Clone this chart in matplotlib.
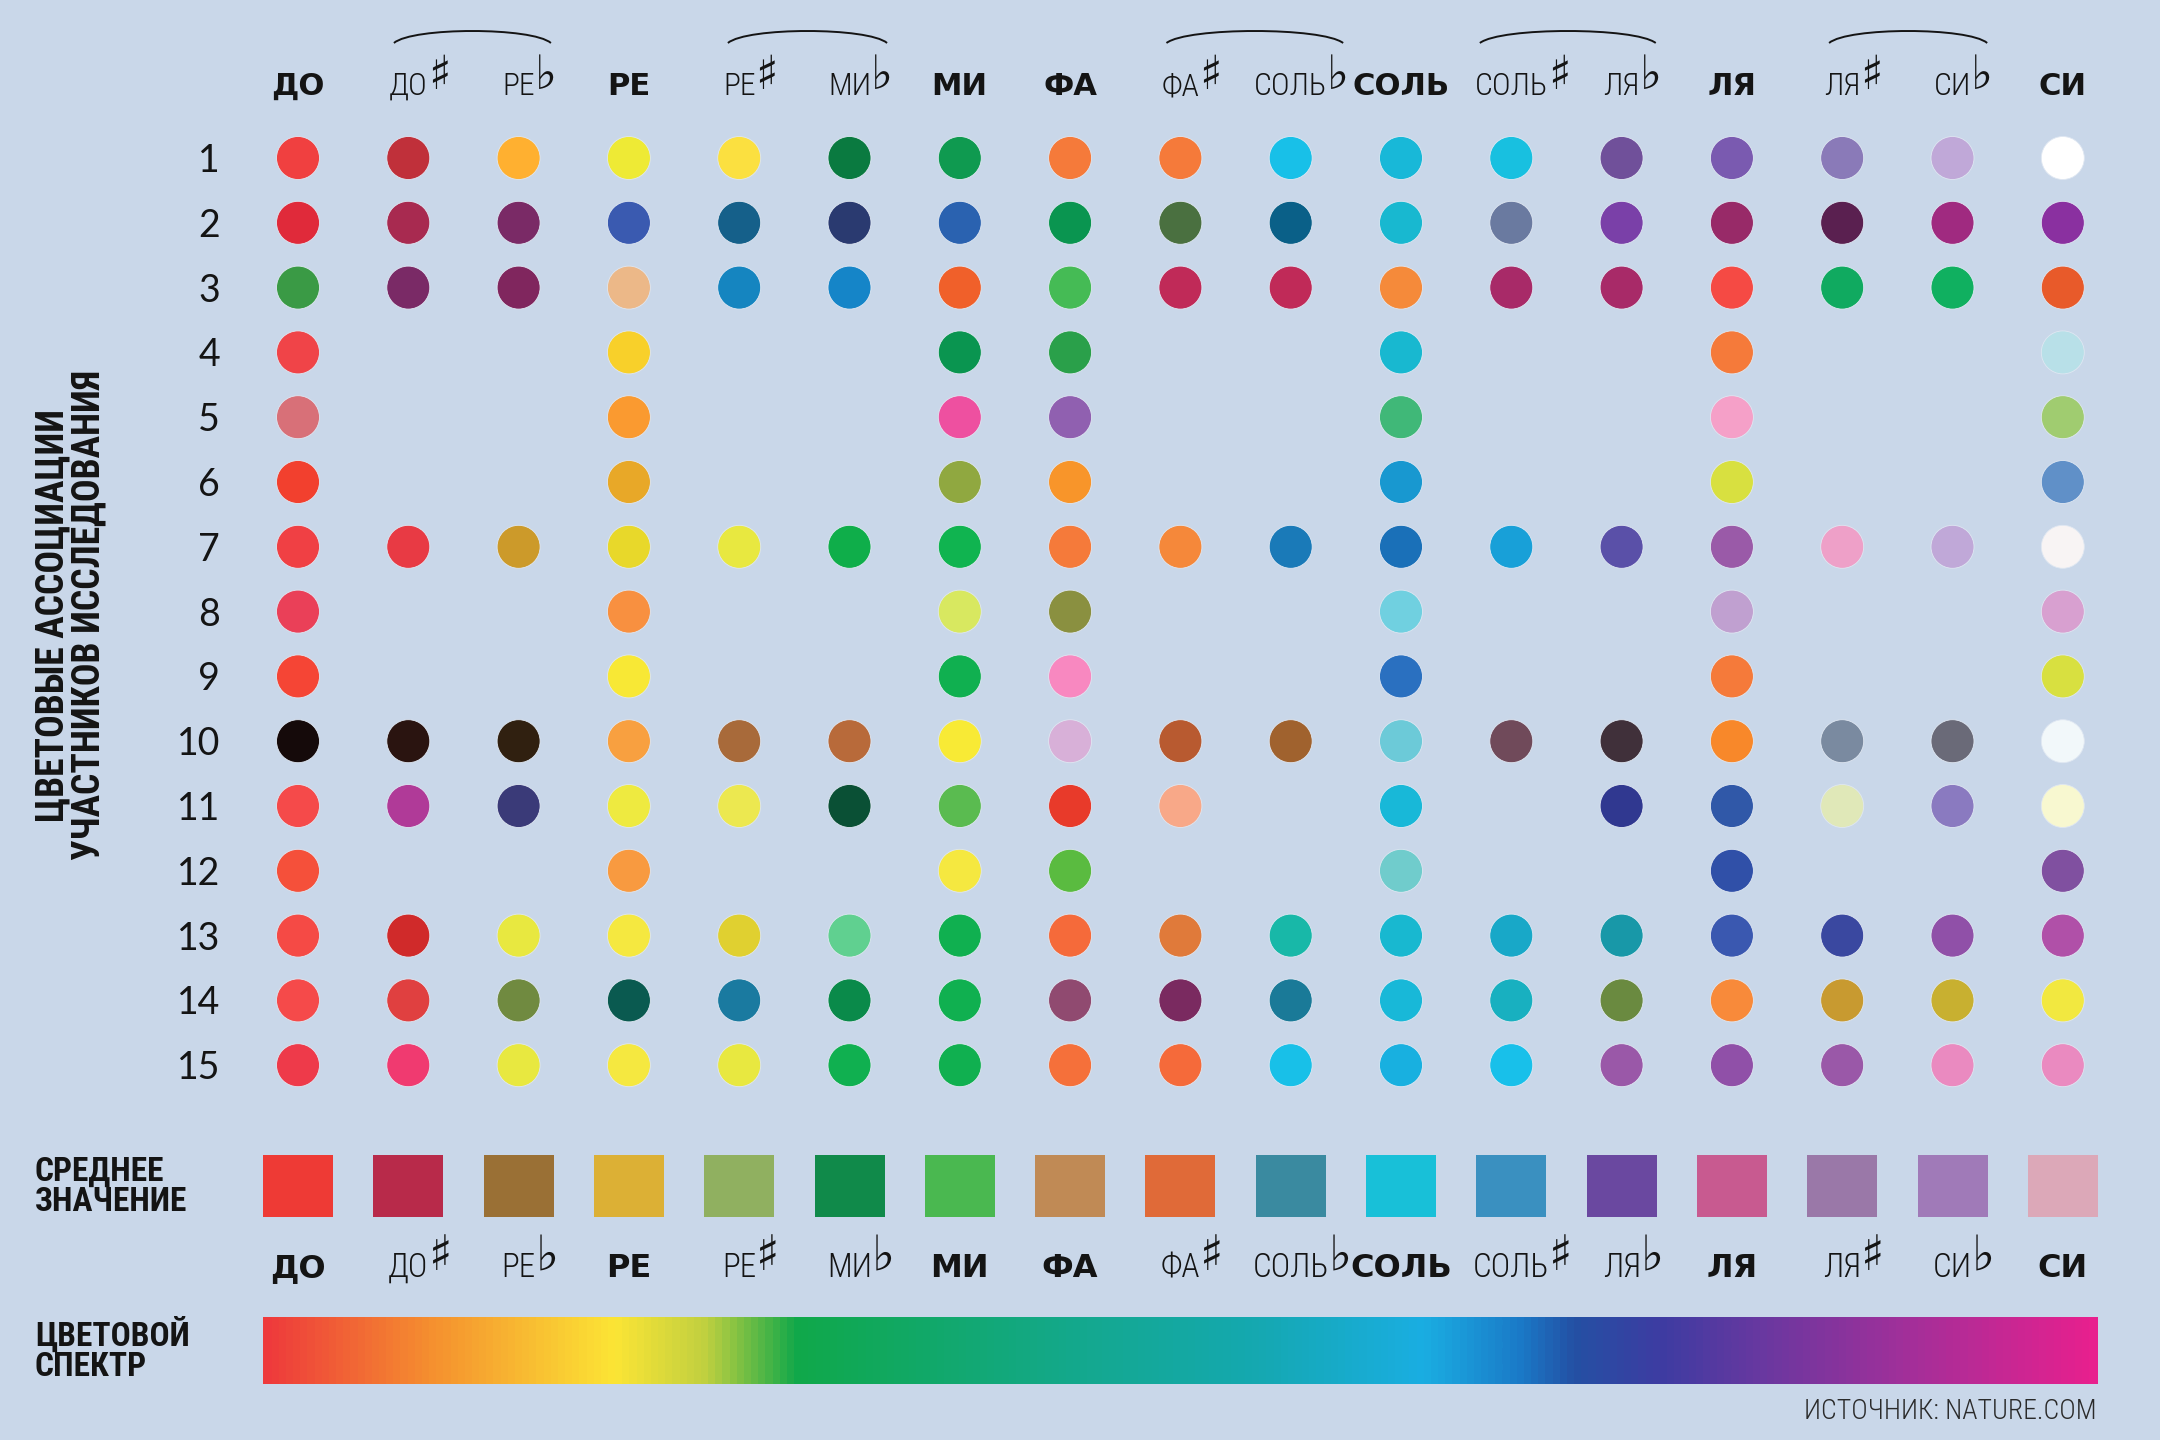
import numpy as np
import matplotlib
matplotlib.use('Agg')
import matplotlib.pyplot as plt
from matplotlib import font_manager
from matplotlib.colors import LinearSegmentedColormap
from matplotlib.path import Path
from matplotlib.patches import PathPatch

# colour picked by each of the 15 participants for every note (None = no answer)
do = ['#f04040', '#e02a3a', '#3a9a45', '#f04448', '#d87078', '#f2402e', '#f04044', '#ea4058',
      '#f54535', '#150a0a', '#f54a4a', '#f5503a', '#f54a45', '#f54a4a', '#ee3a4a']
do_sharp = ['#c0303a', '#a82a50', '#7a2a66', None, None, None, '#e83a44', None,
            None, '#2a1410', '#b03a98', None, '#d02a2a', '#e04040', '#f03a70']
re_flat = ['#ffb030', '#7a2a66', '#80265e', None, None, None, '#cc9a2a', None,
           None, '#302010', '#3a3a78', None, '#e8e840', '#708a40', '#e8e840']
re = ['#eeea35', '#3a5ab0', '#ecb888', '#f8d02a', '#fa9a30', '#e8a828', '#e8d82a', '#f89040',
      '#f8e835', '#f8a040', '#eeea40', '#f89a40', '#f5e840', '#0a5a50', '#f5e840']
re_sharp = ['#fbe040', '#15608a', '#1585c0', None, None, None, '#e8e840', None,
            None, '#a86a3a', '#ece850', None, '#e0d030', '#1a7aa0', '#e8e840']
mi_flat = ['#0a7a40', '#2a3a70', '#1585c8', None, None, None, '#0fae4a', None,
           None, '#b86a3a', '#0a5035', None, '#60d090', '#0a8a4a', '#10b050']
mi = ['#0f9a50', '#2a62b0', '#f0602a', '#0a9550', '#ee50a0', '#90a840', '#10b450', '#d8e860',
      '#10b050', '#f8ea35', '#5abb50', '#f5e840', '#10b050', '#10b050', '#10b050']
fa = ['#f57a3a', '#0a9550', '#45bb55', '#2aa04a', '#9060b0', '#f8952a', '#f57a3a', '#8a9040',
      '#f888c0', '#d8b0d8', '#e83a2a', '#5abb40', '#f56a3a', '#904a70', '#f5703a']
fa_sharp = ['#f57a3a', '#4a7040', '#c02a58', None, None, None, '#f5883a', None,
            None, '#b85a30', '#f8a888', None, '#e07a3a', '#7a2a60', '#f56a3a']
sol_flat = ['#18c0e8', '#0a6088', '#c02a58', None, None, None, '#1a7ab8', None,
            None, '#a0622e', None, None, '#18b8a8', '#1a7a98', '#18c0e8']
sol = ['#18b8d8', '#18b8d0', '#f58a3a', '#18b8d0', '#40b878', '#1898d0', '#1a70b8', '#70d0e0',
       '#2a70c0', '#6ccad8', '#18b8d8', '#70cccc', '#18b8d0', '#18b8d8', '#18b0e0']
sol_sharp = ['#18c0e0', '#6a7aa0', '#a82a68', None, None, None, '#18a0d8', None,
             None, '#704a5a', None, None, '#18a8c8', '#18b0c0', '#18c0ea']
la_flat = ['#70509a', '#7a40a8', '#a82a68', None, None, None, '#5a50a8', None,
           None, '#40303a', '#303890', None, '#1898a8', '#6a8a40', '#9a58a8']
la = ['#7a5ab0', '#982a68', '#f54a44', '#f57a3a', '#f5a0c8', '#d8e040', '#9a5aa8', '#c0a0d0',
      '#f57a3a', '#f8882a', '#3058a8', '#3050a8', '#3a58b0', '#f88a3a', '#9050a8']
la_sharp = ['#8a7ab8', '#5a2050', '#10aa60', None, None, None, '#eea0c8', None,
            None, '#7a8aa0', '#e0e8b8', None, '#3a48a0', '#c89a30', '#9a58a8']
si_flat = ['#c0a8d8', '#a02a80', '#10b060', None, None, None, '#c0a8d8', None,
           None, '#6a6a78', '#8a7ac0', None, '#9050a8', '#c8b030', '#ea8ac0']
si = ['#ffffff', '#8a30a0', '#e85a2a', '#b8e0e8', '#a0cc70', '#6090c8', '#f8f4f4', '#d8a0d0',
      '#d8e040', '#f2f8fa', '#f8f8d0', '#8050a0', '#b050a8', '#f2e840', '#ea8ac0']

note_names = ['ДО', 'ДО', 'РЕ', 'РЕ', 'РЕ', 'МИ', 'МИ', 'ФА', 'ФА',
              'СОЛЬ', 'СОЛЬ', 'СОЛЬ', 'ЛЯ', 'ЛЯ', 'ЛЯ', 'СИ', 'СИ']
accidentals = ['', '♯', '♭', '', '♯', '♭', '', '', '♯', '♭', '', '♯', '♭', '', '♯', '♭', '']
mean_colors = ['#ee3a35', '#b82a4a', '#9a7035', '#dcb035', '#90b060', '#108a4a', '#4ab850',
               '#c08a55', '#e06a38', '#3a8aa0', '#18c0d8', '#3a90c0', '#6a48a0', '#c85a90',
               '#9a78a8', '#a07ab8', '#dca8b8']
enharmonic_pairs = [(1, 2), (4, 5), (8, 9), (11, 12), (14, 15)]

spectrum_stops = [0.0, 0.09, 0.19, 0.24, 0.29, 0.45, 0.54, 0.633, 0.686, 0.716, 0.764, 0.82, 0.895, 1.0]
spectrum_colors = ['#ee3a3c', '#f5902f', '#fce535', '#c0d040', '#10a84a', '#14a890', '#15a8b0',
                   '#1aaee2', '#1a7ac8', '#2450a4', '#3e3ca2', '#6a38a0', '#a0309a', '#e8208e']

notes = [do, do_sharp, re_flat, re, re_sharp, mi_flat, mi, fa, fa_sharp,
         sol_flat, sol, sol_sharp, la_flat, la, la_sharp, si_flat, si]

BG = '#c9d7e9'
INK = '#141414'

installed = {f.name for f in font_manager.fontManager.ttflist}


def pick(*names):
    for n in names:
        if n in installed:
            return n
    return 'DejaVu Sans'


heavy_font = 'DejaVu Sans'
light_font = pick('Roboto Condensed', 'Liberation Sans Narrow', 'Roboto')
label_font = pick('Roboto Condensed', 'Liberation Sans Narrow', 'Roboto')
num_font = pick('Lato', 'Inter', 'Open Sans')

fig = plt.figure(figsize=(21.6, 14.4), dpi=100, facecolor=BG)
ax = fig.add_axes([0, 0, 1, 1])
ax.set_facecolor(BG)
ax.axis('off')

# grid units: one column = 110.3 px, one row = 64.8 px
X0, DX = 298, 110.3
Y0, DY = 158, 64.8


def px(p):
    return (p - X0) / DX


def py(p):
    return (p - Y0) / DY + 1


xlim = (px(0), px(2160))
ylim = (py(1440), py(0))
ax.set_xlim(*xlim)
ax.set_ylim(*ylim)

# dots
xs, ys, cs = [], [], []
for j, col in enumerate(notes):
    for r, c in enumerate(col, start=1):
        if c is not None:
            xs.append(j)
            ys.append(r)
            cs.append(c)
ax.scatter(xs, ys, s=958, c=cs, linewidths=0.6, edgecolors='#dfe7f2', zorder=3)

# row numbers
for r in range(1, 16):
    ax.text(px(220), r + 14 / DY, str(r), ha='right', va='baseline', fontsize=27,
            family=num_font, color=INK)

# y label
ax.text(px(71), py(615), 'ЦВЕТОВЫЕ АССОЦИАЦИИ\nУЧАСТНИКОВ ИССЛЕДОВАНИЯ', rotation=90,
        ha='center', va='center', multialignment='center', fontsize=27,
        family=label_font, weight='bold', linespacing=0.95, color=INK)

fig.canvas.draw()
renderer = fig.canvas.get_renderer()
inv = ax.transData.inverted()


def note_label(j, base_pix, size, sym_rise):
    name, acc = note_names[j], accidentals[j]
    if acc == '':
        t = ax.text(j, py(base_pix), name, ha='center', va='baseline', fontsize=size * 0.92,
                    family=heavy_font, weight='bold', color=INK)
    else:
        t = ax.text(j, py(base_pix), name, ha='center', va='baseline', fontsize=size * 0.95,
                    family=[light_font, 'DejaVu Sans'], weight='light', color=INK)
    bb = t.get_window_extent(renderer)
    left = inv.transform((bb.x0, bb.y0))[0]
    right = inv.transform((bb.x1, bb.y0))[0]
    if acc:
        s = ax.text(right + 0 / DX, py(base_pix - sym_rise), acc, ha='left', va='baseline',
                    fontsize=size * 1.4, family=['DejaVu Sans'], weight='normal', color=INK)
        sb = s.get_window_extent(renderer)
        right = inv.transform((sb.x1, sb.y0))[0]
    return left, right


top_ext = [note_label(j, 95, 24, 6) for j in range(17)]
for j in range(17):
    note_label(j, 1277, 25, 7)

# arcs linking enharmonic pairs in the header
for a, b in enharmonic_pairs:
    x0 = top_ext[a][0] + 5 / DX
    x1 = top_ext[b][1] - 6 / DX
    y_end, apex = py(43), py(31)
    yc = (8 * apex - 2 * y_end) / 6
    w = x1 - x0
    path = Path([(x0, y_end), (x0 + 0.12 * w, yc), (x1 - 0.12 * w, yc), (x1, y_end)],
                [Path.MOVETO, Path.CURVE4, Path.CURVE4, Path.CURVE4])
    ax.add_patch(PathPatch(path, fill=False, lw=1.4, edgecolor=INK))

# mean colours
ax.bar(range(17), 62 / DY, bottom=py(1155), width=70 / DX, color=mean_colors, zorder=2)
ax.text(px(35), py(1187), 'СРЕДНЕЕ\nЗНАЧЕНИЕ', ha='left', va='center', fontsize=24,
        family=label_font, weight='bold', linespacing=0.95, color=INK)

# spectrum
cmap = LinearSegmentedColormap.from_list('spec', list(zip(spectrum_stops, spectrum_colors)))
grad = np.linspace(0, 1, 600)[None, :]
ax.imshow(grad, cmap=cmap, aspect='auto', interpolation='bilinear',
          extent=(px(263), px(2098), py(1384), py(1317)), zorder=2)
ax.text(px(35), py(1350), 'ЦВЕТОВОЙ\nСПЕКТР', ha='left', va='center', fontsize=24,
        family=label_font, weight='bold', linespacing=0.95, color=INK)

ax.text(px(2097), py(1412), 'ИСТОЧНИК: NATURE.COM', ha='right', va='center', fontsize=20,
        family=light_font, weight='light', color='#2a2a2a')

ax.set_xlim(*xlim)
ax.set_ylim(*ylim)
fig.savefig('out.png', dpi=100, facecolor=BG)
